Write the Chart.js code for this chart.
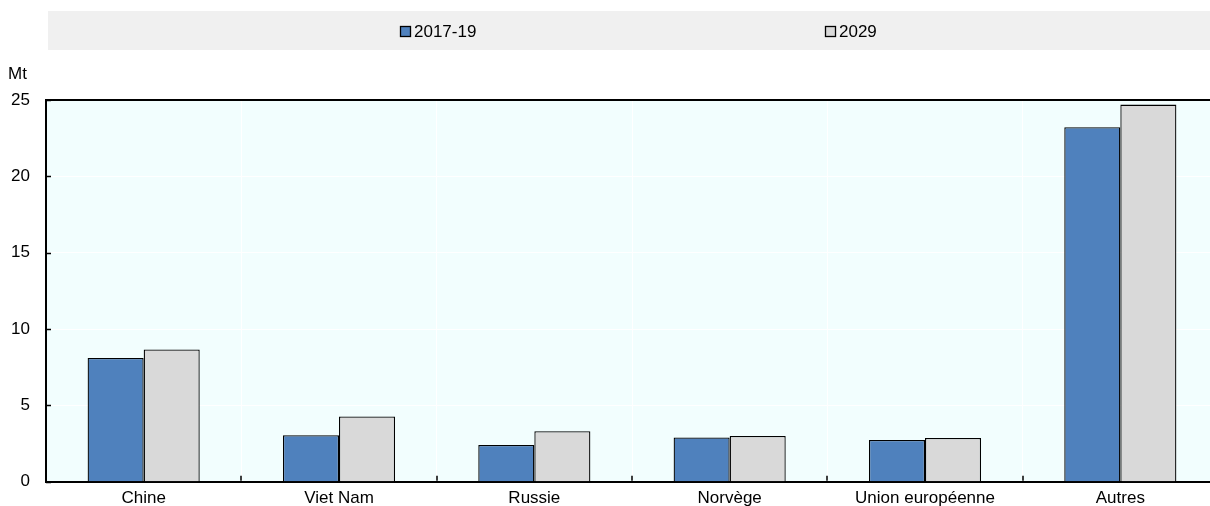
<!DOCTYPE html>
<html>
<head>
<meta charset="utf-8">
<script src="https://cdn.jsdelivr.net/npm/chart.js@4/dist/chart.umd.min.js"></script>
<style>
    html, body { margin: 0; padding: 0; background: #fff; overflow: hidden; }
    #wrap { position: absolute; left: 0; top: 0; width: 1230px; height: 508px; }
</style>
</head>
<body>
<div id="wrap"><canvas id="chart" width="1230" height="508"></canvas></div>
<script>
const categories = ["Chine", "Viet Nam", "Russie", "Norvège", "Union européenne", "Autres"];
const values2017 = [8.11, 3.05, 2.41, 2.90, 2.74, 23.22];
const values2029 = [8.66, 4.28, 3.31, 3.00, 2.87, 24.70];
const seriesLabels = ["2017-19", "2029"];
const yTicks = [0, 5, 10, 15, 20, 25];
const unitLabel = "Mt";

const FONT = "'Liberation Sans', Arial, sans-serif";
const FONT_SIZE = 17;

// background, legend band and unit label
const decorations = {
    id: "decorations",
    beforeDraw(chart) {
        const { ctx, chartArea } = chart;
        ctx.save();
        ctx.fillStyle = "#f2fefe";
        ctx.fillRect(chartArea.left, chartArea.top, chartArea.right - chartArea.left, chartArea.bottom - chartArea.top);

        // legend band
        ctx.fillStyle = "#f0f0f0";
        ctx.fillRect(48, 11, chart.width - 48, 39);
        const itemX = [400, 825];
        ctx.font = FONT_SIZE + "px " + FONT;
        ctx.textBaseline = "middle";
        chart.data.datasets.forEach((ds, i) => {
            ctx.fillStyle = ds.backgroundColor;
            ctx.fillRect(itemX[i], 26, 11, 11);
            ctx.strokeStyle = "#000";
            ctx.lineWidth = 1.3;
            ctx.strokeRect(itemX[i] + 0.5, 26.5, 10, 10);
            ctx.fillStyle = "#000";
            ctx.fillText(ds.label, itemX[i] + 14, 32);
        });

        ctx.fillText(unitLabel, 8, 74);
        ctx.restore();
    },
    afterDraw(chart) {
        const { ctx, chartArea } = chart;
        const x = chart.scales.x;
        const y = chart.scales.y;
        ctx.save();
        // top frame line
        ctx.strokeStyle = "#000";
        ctx.lineWidth = 2;
        ctx.beginPath();
        ctx.moveTo(chartArea.left - 1, chartArea.top);
        ctx.lineTo(chart.width, chartArea.top);
        ctx.stroke();

        // inner tick marks
        ctx.lineWidth = 1.5;
        ctx.beginPath();
        yTicks.forEach(v => {
            const py = Math.round(y.getPixelForValue(v)) + 0.5;
            ctx.moveTo(chartArea.left, py);
            ctx.lineTo(chartArea.left + 5, py);
        });
        for (let i = 0; i < categories.length - 1; i++) {
            const px = Math.round((x.getPixelForValue(i) + x.getPixelForValue(i + 1)) / 2);
            ctx.moveTo(px, chartArea.bottom - 1);
            ctx.lineTo(px, chartArea.bottom - 6);
        }
        ctx.stroke();
        ctx.restore();
    }
};

new Chart(document.getElementById("chart"), {
    type: "bar",
    data: {
        labels: categories,
        datasets: [
            {
                label: seriesLabels[0],
                data: values2017,
                backgroundColor: "#4f81bd",
                borderColor: "#000000",
                borderWidth: 1.3
            },
            {
                label: seriesLabels[1],
                data: values2029,
                backgroundColor: "#d9d9d9",
                borderColor: "#000000",
                borderWidth: 1.3
            }
        ]
    },
    options: {
        responsive: false,
        animation: false,
        devicePixelRatio: 1,
        layout: { padding: { top: 100, right: 12, left: 0, bottom: 0 } },
        datasets: {
            bar: { categoryPercentage: 0.574, barPercentage: 1.0 }
        },
        plugins: {
            legend: { display: false },
            tooltip: { enabled: false }
        },
        scales: {
            x: {
                afterFit(scale) { scale.height = 25; },
                grid: { color: "#ffffff", lineWidth: 1, drawTicks: false, offset: true },
                border: { color: "#000", width: 2 },
                ticks: { color: "#000", padding: 6, font: { family: FONT, size: FONT_SIZE } }
            },
            y: {
                min: 0,
                max: 25,
                afterFit(scale) { scale.width = 46; },
                afterBuildTicks(scale) { scale.ticks = yTicks.map(v => ({ value: v })); },
                grid: { color: "#ffffff", lineWidth: 1, drawTicks: false },
                border: { color: "#000", width: 2 },
                ticks: { color: "#000", padding: 16, font: { family: FONT, size: FONT_SIZE } }
            }
        }
    },
    plugins: [decorations]
});
</script>
</body>
</html>
